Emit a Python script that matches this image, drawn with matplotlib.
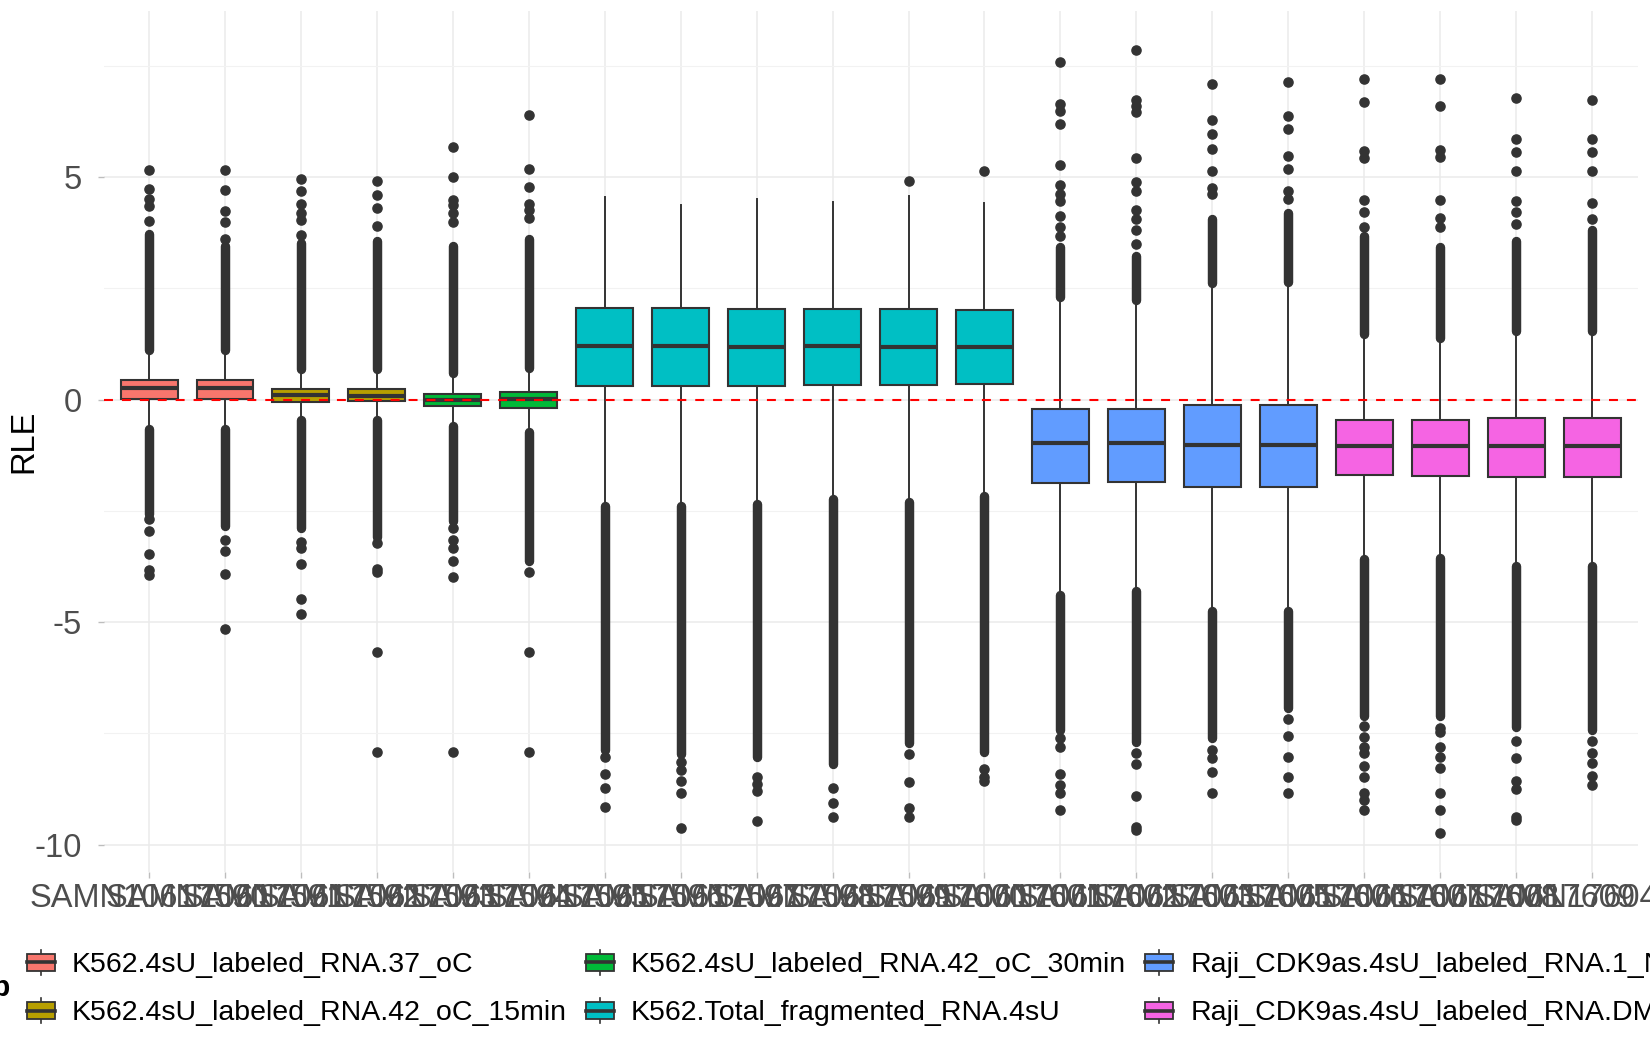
import matplotlib
matplotlib.use("Agg")
import matplotlib.pyplot as plt
from matplotlib.patches import Patch, Rectangle
from matplotlib.lines import Line2D
from matplotlib.legend_handler import HandlerBase

plt.rcParams['font.family'] = ['Liberation Sans', 'DejaVu Sans']

# ---------------- data ----------------
sample_labels = ["SAMN10617590", "SAMN10617591", "SAMN10617592", "SAMN10617593",
                 "SAMN10617594", "SAMN10617595", "SAMN10617596", "SAMN10617597",
                 "SAMN10617598", "SAMN10617599", "SAMN10617600", "SAMN10617601",
                 "SAMN10617602", "SAMN10617603", "SAMN10617605", "SAMN10617606",
                 "SAMN10617607", "SAMN10617608", "SAMN10617609", "SAMN17604112"]

group_names = ["K562.4sU_labeled_RNA.37_oC",
               "K562.4sU_labeled_RNA.42_oC_15min",
               "K562.4sU_labeled_RNA.42_oC_30min",
               "K562.Total_fragmented_RNA.4sU",
               "Raji_CDK9as.4sU_labeled_RNA.1_NM_PP1",
               "Raji_CDK9as.4sU_labeled_RNA.DMSO"]
group_colors = ["#F8766D", "#B79F00", "#00BA38", "#00BFC4", "#619CFF", "#F564E3"]
sample_group = [0, 0, 1, 1, 2, 2, 3, 3, 3, 3, 3, 3, 4, 4, 4, 4, 5, 5, 5, 5]

medians = [0.26, 0.27, 0.11, 0.09, 0.00, 0.01, 1.20, 1.20, 1.19, 1.20, 1.19, 1.19,
           -0.98, -0.98, -1.02, -1.02, -1.05, -1.05, -1.05, -1.05]
q1 = [0.01, 0.01, -0.05, -0.04, -0.14, -0.19, 0.31, 0.31, 0.31, 0.34, 0.32, 0.35,
      -1.87, -1.84, -1.97, -1.97, -1.70, -1.72, -1.74, -1.74]
q3 = [0.45, 0.45, 0.24, 0.24, 0.13, 0.18, 2.06, 2.06, 2.04, 2.03, 2.03, 2.01,
      -0.20, -0.20, -0.13, -0.13, -0.45, -0.45, -0.42, -0.42]
whis_lo = [-0.60, -0.60, -0.39, -0.39, -0.52, -0.62, -2.32, -2.32, -2.27, -2.16, -2.22, -2.08,
           -4.33, -4.24, -4.68, -4.68, -3.51, -3.48, -3.67, -3.67]
whis_hi = [1.04, 1.04, 0.61, 0.61, 0.51, 0.65, 4.56, 4.38, 4.51, 4.45, 4.57, 4.41,
           2.23, 2.17, 2.55, 2.58, 1.41, 1.31, 1.48, 1.48]

# runs of overlapping outlier points (start, end)
dense_hi = [(1.12, 3.73), (1.12, 3.46), (0.68, 3.52), (0.68, 3.57), (0.60, 3.46), (0.72, 3.62),
            None, None, None, None, None, None,
            (2.30, 3.43), (2.25, 3.24), (2.62, 4.07), (2.65, 4.19),
            (1.48, 3.69), (1.38, 3.43), (1.55, 3.56), (1.55, 3.81)]
dense_lo = [(-0.66, -2.56), (-0.66, -2.83), (-0.46, -2.88), (-0.46, -3.08), (-0.58, -2.72), (-0.72, -3.63),
            (-2.40, -7.88), (-2.40, -7.96), (-2.35, -8.04), (-2.24, -8.18), (-2.30, -7.72), (-2.16, -7.91),
            (-4.40, -7.42), (-4.31, -7.69), (-4.75, -7.61), (-4.75, -6.92),
            (-3.58, -7.11), (-3.55, -7.11), (-3.74, -7.36), (-3.74, -7.42)]
# separate outlier points
fliers = [
    [5.16, 4.74, 4.52, 4.35, 4.02, -2.69, -2.96, -3.47, -3.83, -3.94],
    [5.16, 4.72, 4.23, 3.99, 3.62, -3.15, -3.40, -3.92, -5.16],
    [4.95, 4.68, 4.40, 4.19, 4.04, 3.70, -3.20, -3.34, -3.69, -4.49, -4.82],
    [4.92, 4.61, 4.31, 3.91, -3.23, -3.80, -3.88, -5.66, -7.91],
    [5.68, 5.01, 4.49, 4.38, 4.19, 4.00, -2.88, -3.15, -3.34, -3.63, -3.98, -7.91],
    [6.39, 5.19, 4.79, 4.40, 4.26, 4.08, -3.87, -5.66, -7.91],
    [-8.04, -8.42, -8.72, -9.15],
    [-8.15, -8.33, -8.58, -8.83, -9.63],
    [-8.47, -8.63, -8.80, -9.46],
    [-8.72, -9.06, -9.37],
    [4.91, -7.96, -8.60, -9.17, -9.37],
    [5.13, -8.31, -8.47, -8.58],
    [3.69, 3.88, 4.13, 4.47, 4.63, 4.82, 5.27, 6.19, 6.49, 6.65, 7.60, -7.61, -7.80, -8.41, -8.66, -8.85, -9.23],
    [3.50, 3.81, 4.07, 4.26, 4.70, 4.89, 5.43, 6.46, 6.59, 6.74, 7.85, -7.93, -8.18, -8.91, -9.60, -9.67],
    [4.63, 4.76, 5.14, 5.64, 5.98, 6.28, 7.10, -7.87, -8.06, -8.37, -8.85],
    [4.51, 4.70, 5.18, 5.48, 6.09, 6.38, 7.13, -7.17, -7.55, -8.02, -8.47, -8.85],
    [3.88, 4.22, 4.48, 5.43, 5.58, 6.68, 7.20, -7.34, -7.59, -7.80, -7.93, -8.24, -8.47, -8.85, -9.00, -9.23],
    [3.88, 4.09, 4.48, 5.45, 5.61, 6.59, 7.21, -7.37, -7.47, -7.80, -8.03, -8.27, -8.85, -9.23, -9.74],
    [3.96, 4.22, 4.47, 5.14, 5.56, 5.86, 6.78, -7.68, -8.06, -8.57, -8.74, -9.37, -9.45],
    [4.07, 4.41, 5.14, 5.56, 5.86, 6.74, -7.68, -7.93, -8.16, -8.45, -8.66],
]

y_ticks = [-10, -5, 0, 5]
y_minor = [-7.5, -2.5, 2.5, 7.5]

# ---------------- figure ----------------
W, H = 1650, 1050
fig = plt.figure(figsize=(W / 100, H / 100), dpi=100)
ax_l, ax_r, ax_t, ax_b = 103.5, 1637.6, 11.3, 872.2
ax = fig.add_axes([ax_l / W, 1 - ax_b / H, (ax_r - ax_l) / W, (ax_b - ax_t) / H])

edge = "#333333"
n = len(sample_labels)
positions = list(range(1, n + 1))

stats = []
for i in range(n):
    stats.append(dict(med=medians[i], q1=q1[i], q3=q3[i],
                      whislo=whis_lo[i], whishi=whis_hi[i], fliers=fliers[i]))

# dense outlier runs
for i in range(n):
    for run in (dense_hi[i], dense_lo[i]):
        if run is not None:
            ax.plot([positions[i], positions[i]], [run[0], run[1]], color=edge,
                    lw=6.8, solid_capstyle='round', zorder=2)

bp = ax.bxp(stats, positions=positions, widths=0.75, patch_artist=True,
            showcaps=False, manage_ticks=False,
            boxprops=dict(edgecolor=edge, linewidth=1.5),
            medianprops=dict(color=edge, linewidth=3.0),
            whiskerprops=dict(color=edge, linewidth=1.4),
            flierprops=dict(marker='o', markerfacecolor=edge, markeredgecolor=edge,
                            markersize=6.6, linestyle='none'),
            zorder=3)
for i, box in enumerate(bp['boxes']):
    box.set_facecolor(group_colors[sample_group[i]])
    box.set_zorder(3)
for m in bp['medians']:
    m.set_zorder(4)

ax.axhline(0, color='red', lw=1.5, linestyle=(0, (4.3, 4.3)), zorder=5)

# limits with 5% expansion like ggplot
all_vals = []
for i in range(n):
    all_vals += fliers[i] + [whis_lo[i], whis_hi[i]]
    for run in (dense_hi[i], dense_lo[i]):
        if run is not None:
            all_vals += list(run)
lo, hi = min(all_vals), max(all_vals)
pad = (hi - lo) * 0.05
ax.set_ylim(lo - pad, hi + pad)
ax.set_xlim(0.4, n + 0.6)

# grid / theme
for s in ax.spines.values():
    s.set_visible(False)
ax.set_yticks(y_ticks)
ax.set_yticklabels([str(t) for t in y_ticks])
ax.set_yticks(y_minor, minor=True)
ax.set_xticks(positions)
ax.set_xticklabels(sample_labels)
ax.grid(True, which='major', color='#EBEBEB', lw=1.1, zorder=0)
ax.grid(True, which='minor', axis='y', color='#F2F2F2', lw=0.8, zorder=0)
ax.set_axisbelow(True)
ax.tick_params(axis='both', which='major', color='#BDBDBD', length=4, width=1.0,
               labelsize=23.5, labelcolor='#4D4D4D')
ax.tick_params(axis='y', which='major', pad=11.5)
ax.tick_params(axis='x', which='major', pad=3.5)
ax.tick_params(axis='y', which='minor', length=0)

ax.set_ylabel('RLE', fontsize=23.5, color='black')
ax.yaxis.label.set_va('center')
ax.yaxis.set_label_coords((23.5 - ax_l) / (ax_r - ax_l), 0.5)


# legend with boxplot keys
class BoxKeyHandler(HandlerBase):
    def create_artists(self, legend, orig_handle, xdescent, ydescent, width, height,
                       fontsize, trans):
        x0, y0 = -xdescent, -ydescent
        bh = height * 0.68
        by = y0 + (height - bh) / 2
        xc = x0 + width / 2
        wt = Line2D([xc, xc], [by + bh, y0 + height], color=edge, lw=1.2, transform=trans)
        wb = Line2D([xc, xc], [y0, by], color=edge, lw=1.2, transform=trans)
        rect = Rectangle((x0, by), width, bh, facecolor=orig_handle.get_facecolor(),
                         edgecolor=edge, lw=1.3, transform=trans)
        med = Line2D([x0, x0 + width], [y0 + height / 2] * 2, color=edge, lw=2.6,
                     transform=trans)
        return [wt, wb, rect, med]


handles = [Patch(facecolor=c) for c in group_colors]
leg = fig.legend(handles, group_names, ncol=3, loc='upper left',
                 bbox_to_anchor=(27 / W, 1 - 949.5 / H), frameon=False,
                 fontsize=20.5, borderpad=0, borderaxespad=0,
                 handlelength=0.98, handleheight=0.98, handletextpad=0.6,
                 columnspacing=0.67, labelspacing=0.71,
                 handler_map={Patch: BoxKeyHandler()})

fig.text(11 / W, 1 - 996 / H, 'Group', ha='right', va='baseline',
         fontsize=21, fontweight='bold', color='black')

fig.savefig('out.png', dpi=100)
